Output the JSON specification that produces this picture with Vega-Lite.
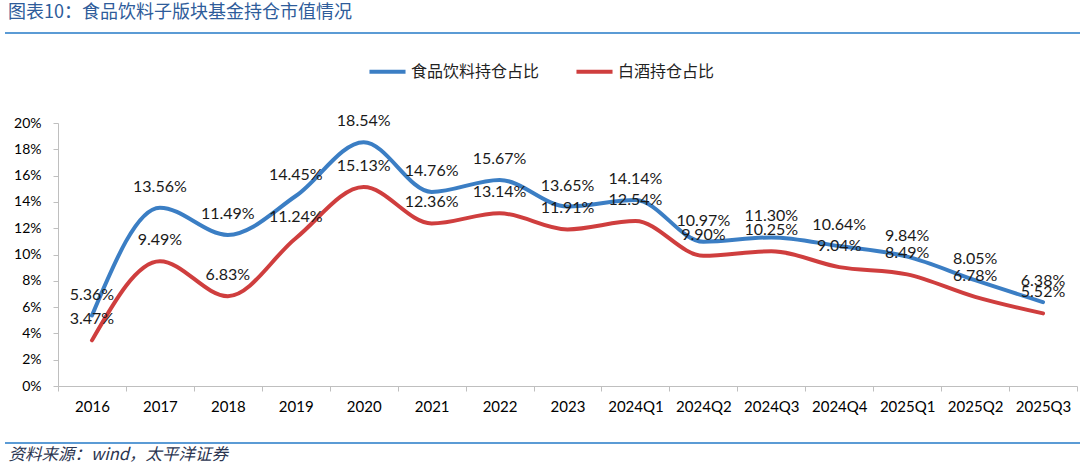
{
  "$schema": "https://vega.github.io/schema/vega-lite/v6.json",
  "width": 1019,
  "height": 263,
  "autosize": {"type": "none"},
  "padding": {"left": 58, "top": 123, "right": 3, "bottom": 79},
  "background": "white",
  "config": {"view": {"stroke": null}, "font": "Lato"},
  "title": {
    "text": "图表10：食品饮料子版块基金持仓市值情况",
    "anchor": "start",
    "frame": "group",
    "dx": -50,
    "offset": 1,
    "baseline": "middle",
    "font": "Noto Sans CJK SC",
    "fontSize": 18,
    "fontWeight": "normal",
    "color": "#2e5c9a"
  },
  "layer": [
    {
      "data": {
        "values": [
          {"period": "2016", "series": "食品饮料持仓占比", "value": 0.0536},
          {"period": "2017", "series": "食品饮料持仓占比", "value": 0.1356},
          {"period": "2018", "series": "食品饮料持仓占比", "value": 0.1149},
          {"period": "2019", "series": "食品饮料持仓占比", "value": 0.1445},
          {"period": "2020", "series": "食品饮料持仓占比", "value": 0.1854},
          {"period": "2021", "series": "食品饮料持仓占比", "value": 0.1476},
          {"period": "2022", "series": "食品饮料持仓占比", "value": 0.1567},
          {"period": "2023", "series": "食品饮料持仓占比", "value": 0.1365},
          {"period": "2024Q1", "series": "食品饮料持仓占比", "value": 0.1414},
          {"period": "2024Q2", "series": "食品饮料持仓占比", "value": 0.1097},
          {"period": "2024Q3", "series": "食品饮料持仓占比", "value": 0.1130},
          {"period": "2024Q4", "series": "食品饮料持仓占比", "value": 0.1064},
          {"period": "2025Q1", "series": "食品饮料持仓占比", "value": 0.0984},
          {"period": "2025Q2", "series": "食品饮料持仓占比", "value": 0.0805},
          {"period": "2025Q3", "series": "食品饮料持仓占比", "value": 0.0638},
          {"period": "2016", "series": "白酒持仓占比", "value": 0.0347},
          {"period": "2017", "series": "白酒持仓占比", "value": 0.0949},
          {"period": "2018", "series": "白酒持仓占比", "value": 0.0683},
          {"period": "2019", "series": "白酒持仓占比", "value": 0.1124},
          {"period": "2020", "series": "白酒持仓占比", "value": 0.1513},
          {"period": "2021", "series": "白酒持仓占比", "value": 0.1236},
          {"period": "2022", "series": "白酒持仓占比", "value": 0.1314},
          {"period": "2023", "series": "白酒持仓占比", "value": 0.1191},
          {"period": "2024Q1", "series": "白酒持仓占比", "value": 0.1254},
          {"period": "2024Q2", "series": "白酒持仓占比", "value": 0.0990},
          {"period": "2024Q3", "series": "白酒持仓占比", "value": 0.1025},
          {"period": "2024Q4", "series": "白酒持仓占比", "value": 0.0904},
          {"period": "2025Q1", "series": "白酒持仓占比", "value": 0.0849},
          {"period": "2025Q2", "series": "白酒持仓占比", "value": 0.0678},
          {"period": "2025Q3", "series": "白酒持仓占比", "value": 0.0552}
        ]
      },
      "encoding": {
        "x": {
          "field": "period",
          "type": "nominal",
          "sort": null,
          "axis": {
            "labelAngle": 0,
            "labelFontSize": 15,
            "labelColor": "#000000",
            "labelPadding": 8,
            "domainColor": "#bfbfbf",
            "tickColor": "#bfbfbf",
            "tickSize": 5,
            "tickBand": "extent",
            "grid": false,
            "title": "资料来源：wind，太平洋证券",
            "titleFont": "Noto Sans CJK SC",
            "titleFontStyle": "italic",
            "titleFontSize": 16.5,
            "titleFontWeight": "normal",
            "titleColor": "#2b3550",
            "titleAnchor": "start",
            "titleAlign": "left",
            "titleBaseline": "middle",
            "titleX": -50,
            "titleY": 68
          }
        },
        "y": {
          "field": "value",
          "type": "quantitative",
          "scale": {"domain": [0, 0.2], "nice": false},
          "axis": {
            "values": [0, 0.02, 0.04, 0.06, 0.08, 0.1, 0.12, 0.14, 0.16, 0.18, 0.2],
            "format": ".0%",
            "labelFontSize": 14,
            "labelColor": "#000000",
            "labelPadding": 12,
            "domainColor": "#bfbfbf",
            "tickColor": "#bfbfbf",
            "tickSize": 5,
            "grid": false,
            "title": null
          }
        }
      },
      "layer": [
        {
          "mark": {"type": "line", "interpolate": "monotone", "strokeWidth": 4, "strokeCap": "round"},
          "encoding": {
            "color": {
              "field": "series",
              "type": "nominal",
              "scale": {"domain": ["食品饮料持仓占比", "白酒持仓占比"], "range": ["#3b7ec4", "#cf3e3e"]},
              "legend": {
                "orient": "none",
                "legendX": 309,
                "legendY": -72,
                "direction": "horizontal",
                "title": null,
                "symbolType": "stroke",
                "symbolStrokeWidth": 4,
                "symbolSize": 1300,
                "labelFont": "Noto Sans CJK SC",
                "labelFontSize": 16,
                "labelColor": "#222222",
                "labelOffset": 3,
                "columnPadding": 28
              }
            }
          }
        },
        {
          "mark": {"type": "text", "dy": -21, "fontSize": 16, "color": "#1a1a1a"},
          "encoding": {
            "text": {"field": "value", "type": "quantitative", "format": ".2%"},
            "detail": {"field": "series", "type": "nominal"}
          }
        }
      ]
    },
    {
      "data": {"values": [{}]},
      "mark": {"type": "rule", "color": "#5b9bd5", "strokeWidth": 2},
      "encoding": {"x": {"value": -53}, "x2": {"value": 1022}, "y": {"value": -90}}
    },
    {
      "data": {"values": [{}]},
      "mark": {"type": "rule", "color": "#5b9bd5", "strokeWidth": 2},
      "encoding": {"x": {"value": -53}, "x2": {"value": 1022}, "y": {"value": 320}}
    }
  ]
}
